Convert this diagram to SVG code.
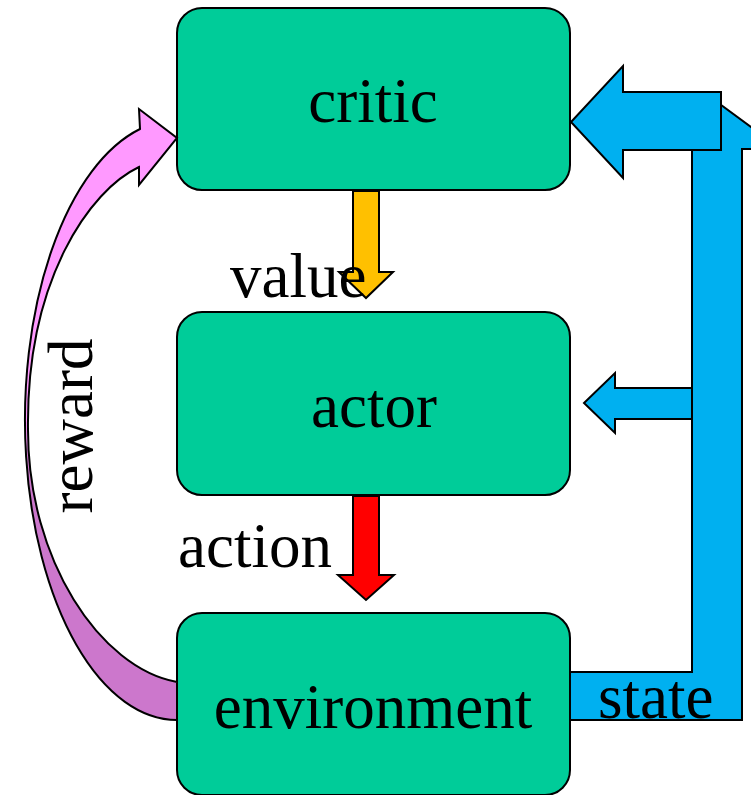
<svg xmlns="http://www.w3.org/2000/svg" width="751" height="795" viewBox="0 0 751 795">
<style>
.box{fill:#00CC99;stroke:#000;stroke-width:2}
.lbl{font-family:"Liberation Serif","Times New Roman",serif;font-size:63px;fill:#000}
.ar{stroke:#000;stroke-width:2;stroke-linejoin:miter}
.blue{fill:#00B0F0}
</style>
<defs>
<linearGradient id="rg" gradientUnits="userSpaceOnUse" x1="0" y1="109" x2="0" y2="720">
<stop offset="0" stop-color="#FF99FF"/>
<stop offset="0.545" stop-color="#FF99FF"/>
<stop offset="0.56" stop-color="#CC77CC"/>
<stop offset="1" stop-color="#CC77CC"/>
</linearGradient>
</defs>
<g id="critic">
<rect class="box" x="177" y="8" width="393" height="182" rx="25"/>
<text class="lbl" x="373" y="122" text-anchor="middle">critic</text>
</g>
<g id="actor">
<rect class="box" x="177" y="312" width="393" height="183" rx="25"/>
<text class="lbl" x="374" y="427" text-anchor="middle">actor</text>
</g>
<g id="environment">
<rect class="box" x="177" y="613" width="393" height="182" rx="25"/>
<text class="lbl" x="373" y="728" text-anchor="middle">environment</text>
</g>
<g id="connectors">
<path class="ar" fill="url(#rg)" d="M177,720 A152,300 0 0 1 140,129 L139,109 L177,138 L139,185 L139,167 C90,190 26,280 28,430 C28,560 100,668 177,682 Z"/>
<path class="ar" fill="#FFC000" d="M353,191 L379,191 L379,272 L393,272 L366,298 L339,272 L353,272 Z"/>
<path class="ar" fill="#FF0000" d="M353,496 L379,496 L379,575 L394,575 L366,600 L338,575 L353,575 Z"/>
<path class="ar blue" d="M692,388 L615,388 L615,373 L584,403 L615,433 L615,419 L692,419 Z"/>
<path class="ar blue" d="M570,672 L692,672 L692,149 L654,149 L717,102 L781,149 L742,149 L742,720 L570,720 Z"/>
<path class="ar blue" d="M721,92 L623,92 L623,66 L571,122 L623,178 L623,150 L721,150 Z"/>
<text class="lbl" x="230" y="297">value</text>
<text class="lbl" x="178" y="567">action</text>
<text class="lbl" x="598" y="718">state</text>
<text class="lbl" transform="translate(92,426) rotate(-90)" text-anchor="middle">reward</text>
</g>
</svg>
